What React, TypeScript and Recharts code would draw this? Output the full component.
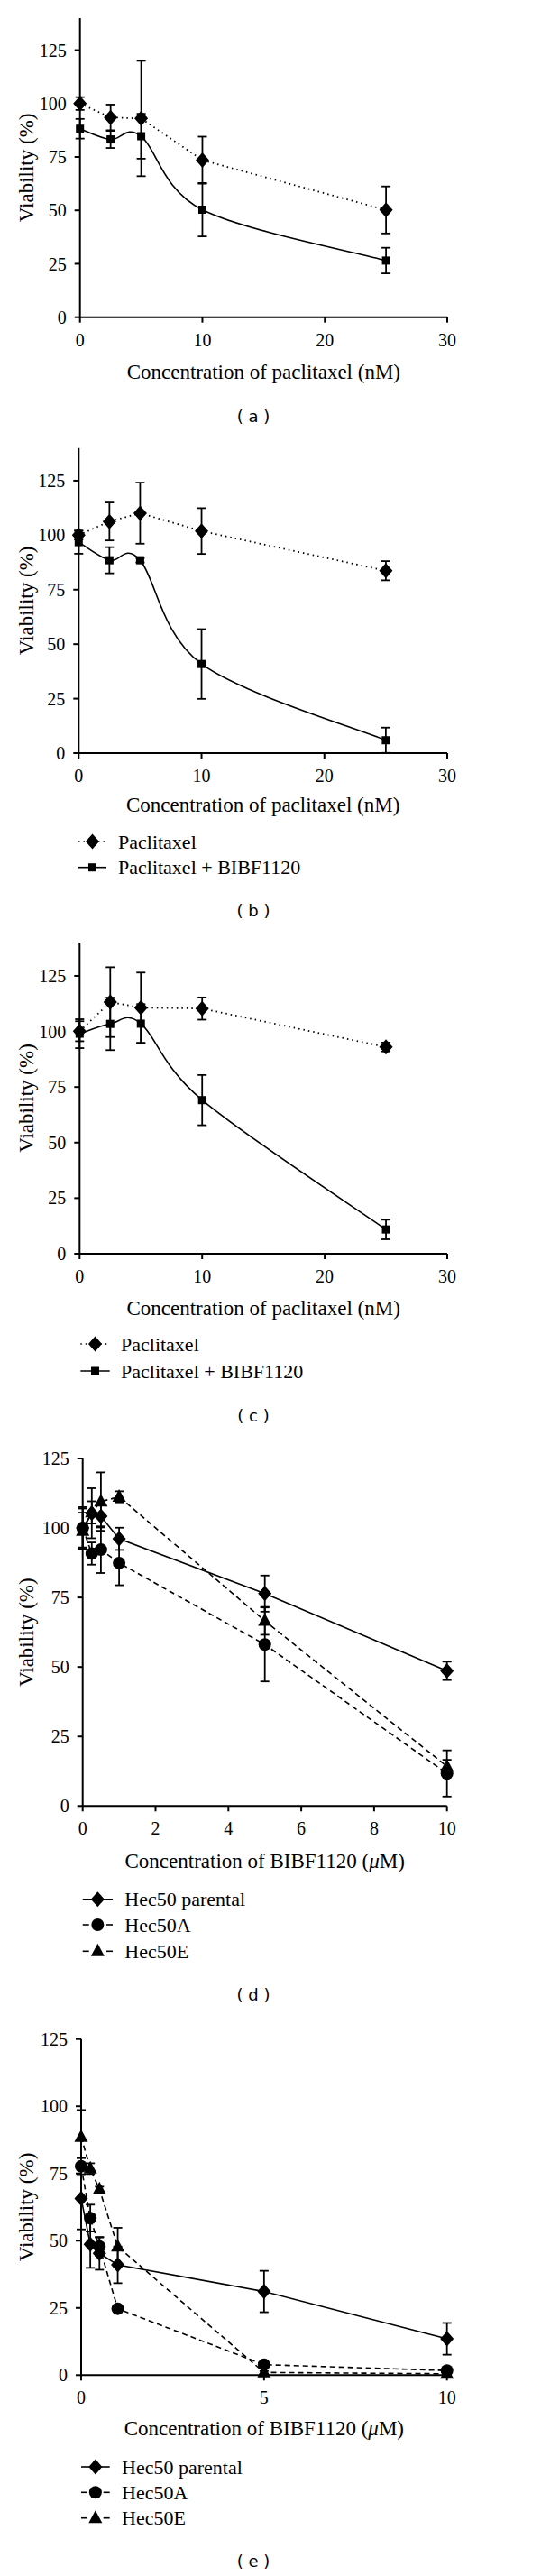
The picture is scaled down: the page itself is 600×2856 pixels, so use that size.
import React from 'react';
import { ComposedChart, Line, XAxis, YAxis, ErrorBar } from 'recharts';

// concentrations
const paclitaxelConc = [0, 2.5, 5, 10, 25];
const bibfConc = [0, 0.25, 0.5, 1, 5, 10];

// panel (a)
const aPac = [100, 93.5, 93, 73.5, 50.2];
const aPacErr = [3, 6, 27, 11, 11];
const aCombo = [88.2, 83.2, 84.7, 50.3, 26.5];
const aComboErr = [4.6, 4, 10.5, 12.5, 6];

// panel (b)
const bPac = [100, 106.3, 110.1, 101.9, 83.7];
const bPacErr = [2, 8.7, 14, 10.5, 4.4];
const bCombo = [96.8, 88.5, 88.5, 40.9, 5.9];
const bComboErr = [5.3, 6, 1, 16, 5.8];

// panel (c)
const cPac = [100.1, 113.2, 110.7, 110.3, 93];
const cPacErr = [4.5, 15.7, 15.8, 5, 2];
const cCombo = [99, 103.4, 103.5, 69.1, 10.9];
const cComboErr = [6.5, 11.8, 8.8, 11.3, 4.4];

// panel (d)
const dParental = [100, 105.3, 104.2, 96.1, 76.4, 48.6];
const dParentalErr = [7, 9, 4, 4, 6.5, 3.3];
const dHecA = [100, 90.8, 92.2, 87.4, 58.1, 11.7];
const dHecAErr = [7.5, 4, 8.4, 8, 13.3, 8.3];
const dHecE = [99, 105.6, 109.5, 111.2, 66.6, 14.2];
const dHecEErr = [6.5, 4, 10.5, 2, 5, 2.4];

// panel (e)
const eParental = [65.7, 48.7, 45.3, 41, 31.1, 13.5];
const eParentalErr = [11.5, 8.8, 6.1, 6.8, 7.7, 5.9];
const eHecA = [77.7, 58.4, 47.8, 24.7, 3.9, 1.7];
const eHecAErr = [3, 5, 3.4, 1, 1, 1];
const eHecE = [88.6, 76.8, 69.1, 47.8, 1, 0.5];
const eHecEErr = [10, 2, 1, 7, 0.5, 0.5];

const yTicks = [0, 25, 50, 75, 100, 125];
const paclitaxelTicks = [0, 10, 20, 30];
const bibfTicksD = [0, 2, 4, 6, 8, 10];
const bibfTicksE = [0, 5, 10];

const SERIF = '"Liberation Serif", "DejaVu Serif", serif';
const SANS = '"DejaVu Sans", Verdana, sans-serif';
const DOTTED = '1.5 4';
const DASHED = '6 4';

// Catmull-Rom style smoothing, like the spline the original plot used
const smoothCurve = (context: any) => {
  let pts: [number, number][] = [];
  return {
    areaStart() {},
    areaEnd() {},
    lineStart() {
      pts = [];
    },
    lineEnd() {
      const n = pts.length;
      if (!n) return;
      context.moveTo(pts[0][0], pts[0][1]);
      for (let i = 0; i < n - 1; i++) {
        const p0 = pts[Math.max(0, i - 1)];
        const p1 = pts[i];
        const p2 = pts[i + 1];
        const p3 = pts[Math.min(n - 1, i + 2)];
        context.bezierCurveTo(
          p1[0] + (p2[0] - p0[0]) / 6,
          p1[1] + (p2[1] - p0[1]) / 6,
          p2[0] - (p3[0] - p1[0]) / 6,
          p2[1] - (p3[1] - p1[1]) / 6,
          p2[0],
          p2[1],
        );
      }
    },
    point(x: number, y: number) {
      pts.push([+x, +y]);
    },
  };
};

type Shape = 'diamond' | 'square' | 'circle' | 'triangle';

interface Series {
  name: string;
  shape: Shape;
  dash?: string;
  curve: any;
  data: { x: number; y: number; e: number }[];
}

const toPoints = (xs: number[], ys: number[], es: number[]) =>
  xs.map((x, i) => ({ x, y: ys[i], e: es[i] }));

const Marker = ({ shape, cx, cy }: { shape: Shape; cx: number; cy: number }) => {
  if (cx == null || cy == null) return null;
  if (shape === 'diamond')
    return <polygon points={`${cx},${cy - 8.5} ${cx + 7.5},${cy} ${cx},${cy + 8.5} ${cx - 7.5},${cy}`} fill="#000" />;
  if (shape === 'square')
    return <rect x={cx - 4.5} y={cy - 4.5} width={9} height={9} fill="#000" />;
  if (shape === 'circle') return <circle cx={cx} cy={cy} r={7} fill="#000" />;
  return <polygon points={`${cx},${cy - 8.5} ${cx + 7.5},${cy + 5.5} ${cx - 7.5},${cy + 5.5}`} fill="#000" />;
};

const pacSeries = (pac: number[], pacErr: number[], combo: number[], comboErr: number[]): Series[] => [
  { name: 'Paclitaxel', shape: 'diamond', dash: DOTTED, curve: 'linear', data: toPoints(paclitaxelConc, pac, pacErr) },
  { name: 'Paclitaxel + BIBF1120', shape: 'square', curve: smoothCurve, data: toPoints(paclitaxelConc, combo, comboErr) },
];

const hecSeries = (p: number[], pe: number[], a: number[], ae: number[], e: number[], ee: number[]): Series[] => [
  { name: 'Hec50 parental', shape: 'diamond', curve: 'linear', data: toPoints(bibfConc, p, pe) },
  { name: 'Hec50A', shape: 'circle', dash: DASHED, curve: 'linear', data: toPoints(bibfConc, a, ae) },
  { name: 'Hec50E', shape: 'triangle', dash: DASHED, curve: 'linear', data: toPoints(bibfConc, e, ee) },
];

const pacTitle = 'Concentration of paclitaxel (nM)';
const bibfTitle = (
  <>
    Concentration of BIBF1120 (<tspan fontStyle="italic">μ</tspan>M)
  </>
);

interface PanelProps {
  top: number;
  plotTop: number;
  plotBottom: number;
  left: number;
  right: number;
  yMax: number;
  xDomain: [number, number];
  xTicks: number[];
  series: Series[];
}

const Panel = ({ top, plotTop, plotBottom, left, right, yMax, xDomain, xTicks, series }: PanelProps) => {
  const height = plotBottom - top + 50;
  const tickStyle = { fill: '#000', fontSize: 20, fontFamily: SERIF };
  return (
    <div style={{ position: 'absolute', left: 0, top }}>
      <ComposedChart
        width={600}
        height={height}
        margin={{ top: plotTop - top, right: 600 - right, bottom: 0, left: 0 }}
      >
        <XAxis
          type="number"
          dataKey="x"
          domain={xDomain}
          ticks={xTicks}
          height={50}
          stroke="#000"
          strokeWidth={2}
          tickSize={6}
          tickMargin={12}
          tick={tickStyle}
        />
        <YAxis
          type="number"
          domain={[0, yMax]}
          ticks={yTicks}
          width={left}
          stroke="#000"
          strokeWidth={2}
          tickSize={6}
          tickMargin={9}
          tick={tickStyle}
        />
        {series.map((s) => (
          <Line
            key={s.name}
            name={s.name}
            data={s.data}
            dataKey="y"
            type={s.curve}
            stroke="#000"
            strokeWidth={s.dash === DOTTED ? 1.8 : 1.6}
            strokeDasharray={s.dash}
            activeDot={false}
            isAnimationActive={false}
            dot={(p: any) => <Marker key={`${s.name}-${p.index}`} shape={s.shape} cx={p.cx} cy={p.cy} />}
          >
            <ErrorBar dataKey="e" direction="y" width={5} stroke="#000" strokeWidth={1.8} />
          </Line>
        ))}
      </ComposedChart>
    </div>
  );
};

const Titles = ({ plotTop, plotBottom, left, right, titleY, title }: {
  plotTop: number; plotBottom: number; left: number; right: number; titleY: number; title: React.ReactNode;
}) => {
  const cy = (plotTop + plotBottom) / 2;
  return (
    <g>
      <text x={(left + right) / 2} y={titleY} dy="0.35em" textAnchor="middle" fontFamily={SERIF} fontSize={23} fill="#000">
        {title}
      </text>
      <text x={29} y={cy} dy="0.35em" textAnchor="middle" transform={`rotate(-90, 29, ${cy})`}
        fontFamily={SERIF} fontSize={23} fill="#000">
        Viability (%)
      </text>
    </g>
  );
};

interface LegendProps {
  rows: number[];
  x0: number;
  x1: number;
  textX: number;
  series: Series[];
}

const LegendBlock = ({ rows, x0, x1, textX, series }: LegendProps) => (
  <g>
    {series.map((s, i) => {
      const cy = rows[i];
      const mid = (x0 + x1) / 2;
      let line: React.ReactNode;
      if (s.dash === DASHED) {
        line = (
          <>
            <line x1={x0} y1={cy} x2={x0 + 7} y2={cy} stroke="#000" strokeWidth={1.6} />
            <line x1={x1 - 7} y1={cy} x2={x1} y2={cy} stroke="#000" strokeWidth={1.6} />
          </>
        );
      } else {
        line = <line x1={x0} y1={cy} x2={x1} y2={cy} stroke="#000" strokeWidth={1.6} strokeDasharray={s.dash} />;
      }
      return (
        <g key={s.name}>
          {line}
          <Marker shape={s.shape} cx={mid} cy={cy} />
          <text x={textX} y={cy} dy="0.35em" fontFamily={SERIF} fontSize={22} fill="#000">
            {s.name}
          </text>
        </g>
      );
    })}
  </g>
);

const PanelLabel = ({ y, letter }: { y: number; letter: string }) => (
  <text x={281} y={y} dy="0.35em" textAnchor="middle" fontFamily={SANS} fontSize={18} fill="#000">
    {`( ${letter} )`}
  </text>
);

const seriesA = pacSeries(aPac, aPacErr, aCombo, aComboErr);
const seriesB = pacSeries(bPac, bPacErr, bCombo, bComboErr);
const seriesC = pacSeries(cPac, cPacErr, cCombo, cComboErr);
const seriesD = hecSeries(dParental, dParentalErr, dHecA, dHecAErr, dHecE, dHecEErr);
const seriesE = hecSeries(eParental, eParentalErr, eHecA, eHecAErr, eHecE, eHecEErr);

export default function App() {
  return (
    <div style={{ position: 'absolute', left: 0, top: 0, width: 600, height: 2856, background: '#fff' }}>
      <Panel top={0} plotTop={20} plotBottom={351.7} left={88.7} right={496} yMax={140}
        xDomain={[0, 30]} xTicks={paclitaxelTicks} series={seriesA} />
      <Panel top={470} plotTop={496.7} plotBottom={835} left={87.3} right={496} yMax={140}
        xDomain={[0, 30]} xTicks={paclitaxelTicks} series={seriesB} />
      <Panel top={1020} plotTop={1045} plotBottom={1390} left={88.3} right={496} yMax={140}
        xDomain={[0, 30]} xTicks={paclitaxelTicks} series={seriesC} />
      <Panel top={1590} plotTop={1617} plotBottom={2002.3} left={91.7} right={495.7} yMax={125}
        xDomain={[0, 10]} xTicks={bibfTicksD} series={seriesD} />
      <Panel top={2235} plotTop={2260.7} plotBottom={2633.3} left={90} right={495.7} yMax={125}
        xDomain={[0, 10]} xTicks={bibfTicksE} series={seriesE} />
      <svg width={600} height={2856} style={{ position: 'absolute', left: 0, top: 0, pointerEvents: 'none' }}>
        <Titles plotTop={20} plotBottom={351.7} left={88.7} right={496} titleY={411.7} title={pacTitle} />
        <PanelLabel y={461.7} letter="a" />
        <Titles plotTop={496.7} plotBottom={835} left={87.3} right={496} titleY={891.7} title={pacTitle} />
        <LegendBlock rows={[933, 961.7]} x0={87} x1={118} textX={131} series={seriesB} />
        <PanelLabel y={1010} letter="b" />
        <Titles plotTop={1045} plotBottom={1390} left={88.3} right={496} titleY={1450} title={pacTitle} />
        <LegendBlock rows={[1490, 1520]} x0={89.3} x1={121.7} textX={134} series={seriesC} />
        <PanelLabel y={1570} letter="c" />
        <Titles plotTop={1617} plotBottom={2002.3} left={91.7} right={495.7} titleY={2063} title={bibfTitle} />
        <LegendBlock rows={[2105.7, 2134, 2163.3]} x0={91.7} x1={125} textX={138.3} series={seriesD} />
        <PanelLabel y={2211.7} letter="d" />
        <Titles plotTop={2260.7} plotBottom={2633.3} left={90} right={495.7} titleY={2691.7} title={bibfTitle} />
        <LegendBlock rows={[2735, 2763.3, 2791.7]} x0={90} x1={121.7} textX={135} series={seriesE} />
        <PanelLabel y={2840} letter="e" />
      </svg>
    </div>
  );
}
